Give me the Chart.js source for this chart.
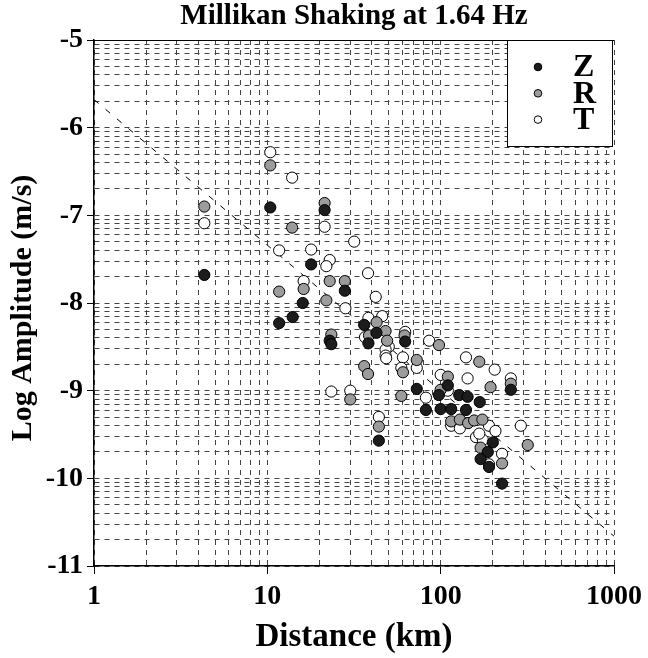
<!DOCTYPE html>
<html>
<head>
<meta charset="utf-8">
<script src="https://cdn.jsdelivr.net/npm/chart.js@4.4.0/dist/chart.umd.min.js"></script>
<style>
  html, body { margin: 0; padding: 0; background: #fff; }
</style>
</head>
<body>
<canvas id="chart" width="648" height="658"></canvas>
<script>
// ─── DATA ─────────────────────────────────────────────────────────────────
const zDist = [10.4, 4.33, 11.7, 21.4, 17.9, 16.0, 14.0, 28.0, 36.2, 42.6, 22.9, 23.4, 38.3, 62.4, 44.0, 72.8, 97.7, 128, 143, 168, 82.2, 100, 115, 140, 110, 254, 200, 187, 170, 190, 226];
const zAmp  = [-6.91, -7.68, -8.23, -6.94, -7.56, -8.00, -8.16, -7.86, -8.25, -8.34, -8.43, -8.47, -8.46, -8.44, -9.57, -8.98, -9.05, -9.05, -9.07, -9.13, -9.22, -9.21, -9.21, -9.22, -8.94, -8.99, -9.59, -9.70, -9.78, -9.87, -10.06];

const rDist = [4.33, 10.4, 11.7, 21.4, 13.9, 16.2, 22.9, 28.0, 21.9, 42.7, 48.1, 23.4, 38.6, 49.1, 61.9, 97.8, 72.8, 36.2, 38.1, 60.6, 30.1, 59.3, 100, 110, 167, 194, 254, 115, 129, 144, 156, 174, 318, 170, 226, 44.0];
const rAmp  = [-6.90, -6.43, -7.87, -6.86, -7.14, -7.84, -7.75, -7.75, -7.97, -8.22, -8.32, -8.36, -8.37, -8.43, -8.37, -8.48, -8.65, -8.72, -8.81, -8.79, -9.10, -9.06, -8.99, -8.84, -8.67, -8.96, -8.92, -9.35, -9.33, -9.37, -9.34, -9.33, -9.62, -9.65, -9.83, -9.41];

const tDist = [4.33, 10.4, 13.9, 21.4, 31.7, 11.7, 17.9, 22.9, 21.9, 38.1, 16.2, 42.2, 28.2, 38.3, 46.0, 36.6, 50.2, 48.1, 48.1, 48.5, 62.4, 85.8, 60.6, 72.8, 59.3, 100, 140, 205, 143, 110, 254, 23.4, 30.1, 82.2, 44.0, 115, 129, 190, 207, 290, 160, 175, 167, 226, 190];
const tAmp  = [-7.09, -6.28, -6.57, -7.13, -7.30, -7.40, -7.39, -7.51, -7.58, -7.66, -7.75, -7.93, -8.06, -8.17, -8.15, -8.39, -8.50, -8.53, -8.60, -8.63, -8.33, -8.43, -8.62, -8.74, -8.74, -8.82, -8.62, -8.76, -8.86, -9.00, -8.86, -9.01, -9.00, -9.08, -9.30, -9.40, -9.43, -9.40, -9.46, -9.40, -9.53, -9.56, -9.49, -9.72, -9.84];

// dashed reference line
const trendDist = [1, 1000];
const trendAmp  = [-5.68, -10.66];

const xMajor = [1, 10, 100, 1000];
const yMajor = [-11, -10, -9, -8, -7, -6, -5];

const TITLE = 'Millikan Shaking at 1.64 Hz';
const X_TITLE = 'Distance (km)';
const Y_TITLE = 'Log Amplitude (m/s)';

// ─── HELPERS ──────────────────────────────────────────────────────────────
const SERIF = "'Liberation Serif', 'Times New Roman', serif";
const zip = (xs, ys) => xs.map((x, i) => ({ x, y: ys[i] }));
const isMajorX = v => xMajor.some(m => Math.abs(m - v) < 1e-9);
const isMajorY = v => yMajor.some(m => Math.abs(m - v) < 1e-9);

function xGridValues() {
  const out = [];
  for (let d = 1; d < 1000; d *= 10)
    for (let k = 1; k < 10; k++) out.push(d * k);
  out.push(1000);
  return out;
}
function yGridValues() {
  const out = [];
  for (let base = -11; base < -5; base++)
    for (let k = 1; k < 10; k++) out.push(base + Math.log10(k));
  out.push(-5);
  return out;
}

// ─── OVERLAY: title, axis titles, legend box, top frame ───────────────────
const overlay = {
  id: 'overlay',
  afterDraw(chart) {
    const { ctx, chartArea: a } = chart;
    ctx.save();
    ctx.fillStyle = '#000';
    ctx.strokeStyle = '#000';
    ctx.lineWidth = 1;

    // top frame line
    ctx.beginPath();
    ctx.moveTo(a.left, Math.round(a.top) + 0.5);
    ctx.lineTo(a.right, Math.round(a.top) + 0.5);
    ctx.stroke();

    // title
    ctx.font = `bold 29px ${SERIF}`;
    ctx.textAlign = 'center';
    ctx.textBaseline = 'middle';
    ctx.fillText(TITLE, (a.left + a.right) / 2, 17);

    // x title
    ctx.font = `bold 33px ${SERIF}`;
    ctx.fillText(X_TITLE, (a.left + a.right) / 2, 637);

    // y title
    ctx.font = `bold 30px ${SERIF}`;
    ctx.save();
    ctx.translate(23, 308);
    ctx.rotate(-Math.PI / 2);
    ctx.fillText(Y_TITLE, 0, 0);
    ctx.restore();

    // legend
    const bx = a.right - 107, by = a.top, bw = 105, bh = 106;
    ctx.fillStyle = '#fff';
    ctx.fillRect(bx, by, bw, bh);
    ctx.strokeRect(Math.round(bx) + 0.5, Math.round(by) + 0.5, bw, bh);
    ctx.font = `bold 32px ${SERIF}`;
    ctx.textAlign = 'left';
    chart.data.datasets.filter(d => d.type !== 'line').forEach((d, i) => {
      const cy = by + 27 + i * 26.3;
      ctx.beginPath();
      ctx.arc(bx + 31, cy, 3.8, 0, Math.PI * 2);
      ctx.fillStyle = d.backgroundColor;
      ctx.fill();
      ctx.stroke();
      ctx.fillStyle = '#000';
      ctx.fillText(d.label, bx + 66, cy + 1);
    });
    ctx.restore();
  }
};

// ─── CHART ────────────────────────────────────────────────────────────────
const pointStyle = (label, fill, pts) => ({
  type: 'scatter', label, data: pts,
  backgroundColor: fill, borderColor: '#000', borderWidth: 1,
  pointRadius: 5.6, pointHoverRadius: 5.6
});

new Chart(document.getElementById('chart'), {
  data: {
    datasets: [
      pointStyle('Z', '#1c1c1c', zip(zDist, zAmp)),
      pointStyle('R', '#9c9c9c', zip(rDist, rAmp)),
      pointStyle('T', '#ffffff', zip(tDist, tAmp)),
      {
        type: 'line', label: 'trend', data: zip(trendDist, trendAmp),
        borderColor: '#000', borderWidth: 1, borderDash: [6, 9],
        pointRadius: 0, fill: false
      }
    ]
  },
  options: {
    responsive: false,
    animation: false,
    layout: { padding: { top: 40, right: 26, left: 0, bottom: 0 } },
    plugins: { legend: { display: false }, tooltip: { enabled: false } },
    scales: {
      x: {
        type: 'logarithmic', min: 1, max: 1000,
        afterFit: s => { s.height = 92; },
        afterBuildTicks: s => { s.ticks = xGridValues().map(v => ({ value: v })); },
        ticks: {
          autoSkip: false, maxRotation: 0, padding: 6, color: '#000',
          font: { family: SERIF, size: 28, weight: 'bold' },
          callback: v => isMajorX(v) ? String(v) : ''
        },
        grid: {
          color: '#444', lineWidth: 1, tickLength: 8,
          tickColor: c => isMajorX(c.tick.value) ? '#000' : 'rgba(0,0,0,0)'
        },
        border: { color: '#000', width: 1.5, dash: [5, 5] }
      },
      y: {
        type: 'linear', min: -11, max: -5,
        afterFit: s => { s.width = 94; },
        afterBuildTicks: s => { s.ticks = yGridValues().map(v => ({ value: v })); },
        ticks: {
          autoSkip: false, padding: 4, color: '#000',
          font: { family: SERIF, size: 28, weight: 'bold' },
          callback: v => isMajorY(v) ? String(Math.round(v)) : ''
        },
        grid: {
          color: '#444', lineWidth: 1, tickLength: 7,
          tickColor: c => isMajorY(c.tick.value) ? '#000' : 'rgba(0,0,0,0)'
        },
        border: { color: '#000', width: 1.5, dash: [5, 5] }
      }
    }
  },
  plugins: [overlay]
});
</script>
</body>
</html>
